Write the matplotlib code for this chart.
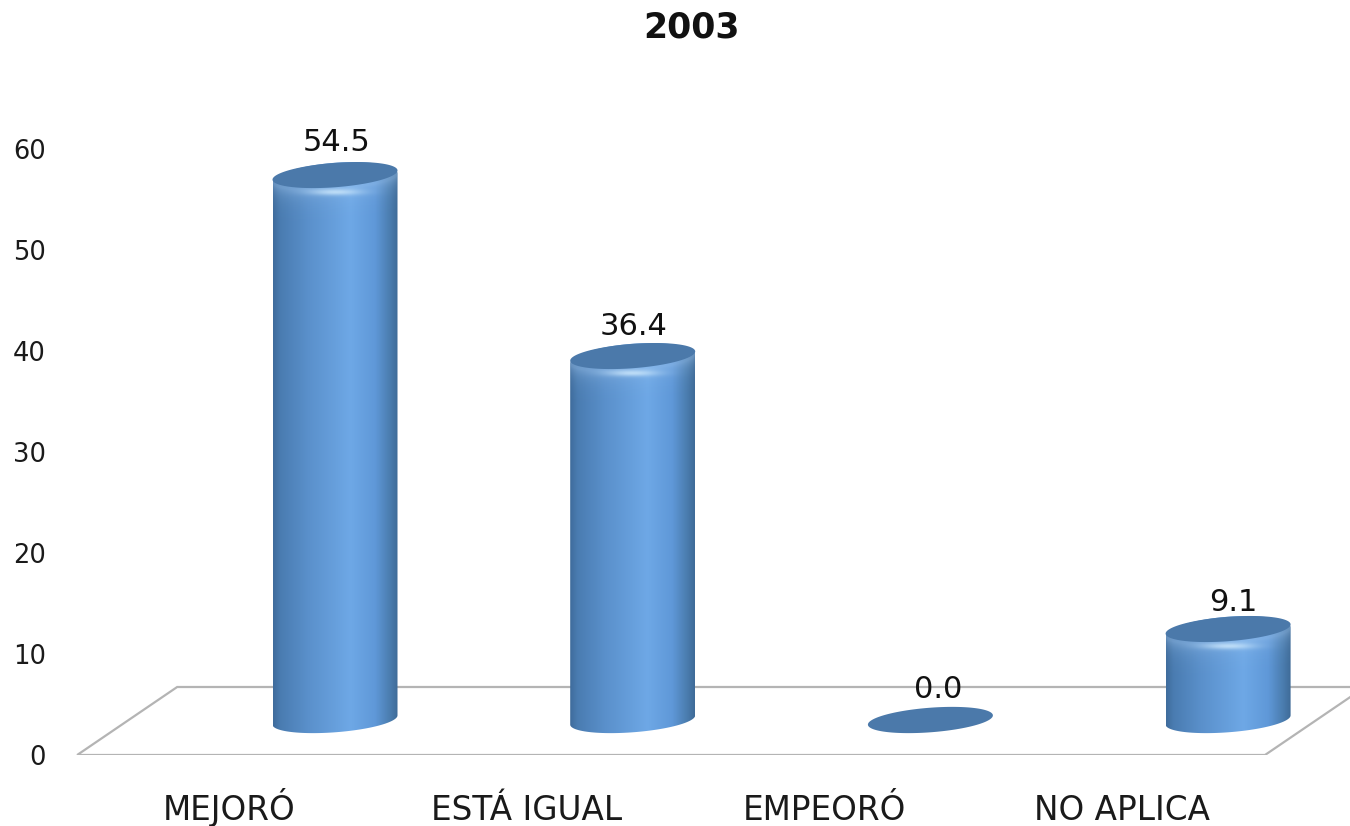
import numpy as np
import matplotlib
matplotlib.use("Agg")
import matplotlib.pyplot as plt
from matplotlib.colors import LinearSegmentedColormap, to_rgb
from matplotlib.patches import Polygon

title = "2003"
categories = ["MEJORÓ", "ESTÁ IGUAL", "EMPEORÓ", "NO APLICA"]
values = [54.5, 36.4, 0.0, 9.1]
y_ticks = [0, 10, 20, 30, 40, 50, 60]

W, H = 1350, 826
fig = plt.figure(figsize=(W / 100, H / 100), dpi=100, facecolor="white")
L, R, B, T = 75, 1350, 755, 149
ax = fig.add_axes([L / W, 1 - B / H, (R - L) / W, (B - T) / H])
STEP = 297.7
PX = 1 / STEP              # data x per pixel
PY = 60 / (B - T)          # data y per pixel

# 3-D floor
floor_c = "#b4b4b4"
dx, dy = 100 * PX, 68 * PY
x0, x1 = -0.51, 3.48
ax.add_patch(Polygon([(x0, 0), (x0 + dx, dy), (x1 + dx, dy), (x1, 0)], closed=True,
                     fc="white", ec=floor_c, lw=1.6, zorder=1))

body_cmap = LinearSegmentedColormap.from_list("body", [
    (0.00, "#3f6c9c"), (0.06, "#4a7cb1"), (0.28, "#5a90cb"),
    (0.62, "#6ea8e6"), (0.82, "#5f98d8"), (0.94, "#4a7cae"), (1.00, "#3f6b98")])

OFF = 106 * PX             # 3-D shift of bars from category ticks
HW = 62.5 * PX
BASE = 35 * PY
K = 0.99
B_E = 12.3                 # ellipse half height, px
S_E = 4.6                  # ellipse tilt, px
label_off = [36, 33, 30, 30]
label_dx = [2, 1, 8, 5]

t_grad = np.linspace(0, 1, 256).reshape(1, -1)


def ell(xc, yc, t, b=B_E, s=S_E):
    return np.c_[xc + HW * np.cos(t), yc + (b * np.sin(t) + s * np.cos(t)) * PY]


def shine(n_w=125, n_h=50, top_px=6):
    """Soft bevel under the top face, following its front curve, plus the highlight."""
    u = np.linspace(-1, 1, n_w)
    py = np.arange(n_h)[:, None]           # pixels below the top of the image
    front = top_px + 12.0 * np.sqrt(1 - u ** 2) * 0.92 - S_E * u
    d = np.clip(py - front[None, :], 0, None)
    a_bevel = np.exp(-d / 9.0) * 0.38
    hy = py - (top_px + 13.5)
    a_hl = np.exp(-(u[None, :] / 0.40) ** 2 - (hy / 3.2) ** 2) * 0.8
    rgba = np.zeros((n_h, n_w, 4))
    c1, c2 = np.array(to_rgb("#a9cdf3")), np.array(to_rgb("#d6efff"))
    w = np.clip(a_hl / (a_hl + a_bevel + 1e-6), 0, 1)[..., None]
    rgba[..., :3] = c1 * (1 - w) + c2 * w
    rgba[..., 3] = 1 - (1 - a_bevel) * (1 - a_hl)
    return rgba


for i, v in enumerate(values):
    xc = i + OFF
    face = "#4b79aa"
    t = np.linspace(0, 2 * np.pi, 160)
    if v > 0:
        y_top = BASE - 3 * PY + K * v
        t_low = np.linspace(np.pi, 2 * np.pi, 60)
        t_up = np.linspace(0, np.pi, 60)
        pts = np.vstack([ell(xc, BASE, t_low), ell(xc, y_top, t_up, b=15.3)])
        clip = Polygon(pts, closed=True, transform=ax.transData, fc="none", ec="none")
        ax.add_patch(clip)
        top = y_top + 18 * PY
        bot = BASE - 15 * PY
        im = ax.imshow(t_grad, cmap=body_cmap, aspect="auto", origin="lower",
                       extent=(xc - HW, xc + HW, bot, top), zorder=2, interpolation="bilinear")
        im.set_clip_path(clip)

        sh = shine()
        im2 = ax.imshow(sh, aspect="auto", origin="upper",
                        extent=(xc - HW, xc + HW, y_top + (6 - sh.shape[0]) * PY, y_top + 6 * PY),
                        zorder=3, interpolation="bilinear")
        im2.set_clip_path(clip)

        ax.add_patch(Polygon(ell(xc, y_top + 3 * PY, t, b=12.2), closed=True,
                             fc=face, ec="none", zorder=4))
    else:
        y_top = BASE
        ax.add_patch(Polygon(ell(xc, BASE, t), closed=True, fc=face, ec="none", zorder=4))
    ax.text(xc + label_dx[i] * PX, y_top + label_off[i] * PY, f"{v:.1f}", ha="center", va="center",
            family="DejaVu Sans", fontsize=22, color="#111111", zorder=6)

for s in ax.spines.values():
    s.set_visible(False)
ax.patch.set_alpha(0)
ax.set_xticks(range(len(categories)), categories, family="DejaVu Sans", fontsize=23.5, color="#1a1a1a")
for lab in ax.get_xticklabels():
    lab.set_verticalalignment("baseline")
ax.set_yticks(y_ticks, [str(v) for v in y_ticks], family="DejaVu Sans", fontsize=18.5, color="#1a1a1a")
ax.tick_params(axis="both", length=0)
ax.tick_params(axis="y", pad=21)
ax.tick_params(axis="x", pad=46.8)
ax.set_xlim((L - 229) / STEP, (R - 229) / STEP)
ax.set_ylim(0, 60)

fig.text(692 / W, 1 - 28 / H, title, ha="center", va="center", family="DejaVu Sans",
         fontweight="bold", fontsize=25, color="#111111")

fig.savefig("out.png", dpi=100, facecolor="white")
